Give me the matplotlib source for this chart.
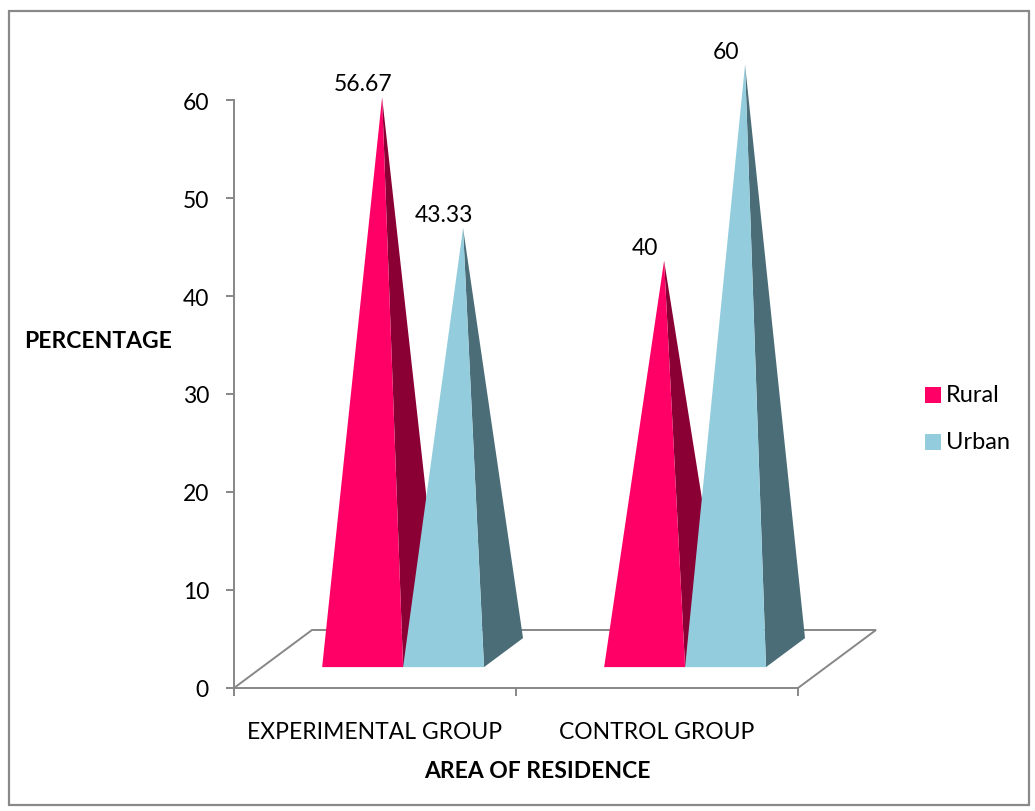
import numpy as np
import matplotlib.pyplot as plt
from matplotlib.patches import Polygon, Rectangle

plt.rcParams['font.family'] = ['Lato', 'DejaVu Sans']

groups = ['EXPERIMENTAL GROUP', 'CONTROL GROUP']
series = ['Rural', 'Urban']
rural = [56.67, 40]
urban = [43.33, 60]
yticks = [0, 10, 20, 30, 40, 50, 60]

face_colors = {'Rural': ('#ff0066', '#8a0035'), 'Urban': ('#93cddd', '#4b6d77')}
grid_gray = '#878787'
fs = 16.5

# 3-D look: depth vector of the floor in data units, and where the pyramids sit in it
depth_dx, depth_dy = 0.2766, 5.92
base_front, base_back, apex_depth = 0.36, 0.86, 0.61
pair_width = 0.574

fig = plt.figure(figsize=(10.35, 8.12), dpi=100)
ax = fig.add_axes([234 / 1035, 123 / 812, 2.3 * 282 / 1035, 66 * 9.8 / 812])
ax.set_xlim(0, 2.3)
ax.set_ylim(0, 66)

# floor of the 3-D box
ax.plot([0, depth_dx, 2 + depth_dx, 2], [0, depth_dy, depth_dy, 0],
        color=grid_gray, lw=1.4, solid_joinstyle='miter', clip_on=False)

bw = pair_width / 2
for gi in range(len(groups)):
    for si, (name, vals) in enumerate([('Rural', rural), ('Urban', urban)]):
        v = vals[gi]
        xl = gi + 0.5 - pair_width / 2 + si * bw
        xr = xl + bw
        fl = (xl + base_front * depth_dx, base_front * depth_dy)
        fr = (xr + base_front * depth_dx, base_front * depth_dy)
        br = (xr + base_back * depth_dx, base_back * depth_dy)
        apex = ((xl + xr) / 2 + apex_depth * depth_dx, v + apex_depth * depth_dy)
        front, side = face_colors[name]
        ax.add_patch(Polygon([fr, br, apex], closed=True, facecolor=side,
                             edgecolor='none', zorder=3 + si * 2))
        ax.add_patch(Polygon([fl, fr, apex], closed=True, facecolor=front,
                             edgecolor='none', zorder=4 + si * 2))
        ax.annotate(f'{v:g}', xy=((fl[0] + fr[0]) / 2, apex[1]), xytext=(0, 2),
                    textcoords='offset points', ha='center', va='bottom',
                    fontsize=fs, zorder=10)

for s in ['top', 'right']:
    ax.spines[s].set_visible(False)
for s in ['left', 'bottom']:
    ax.spines[s].set_color(grid_gray)
    ax.spines[s].set_linewidth(1.4)
ax.spines['left'].set_bounds(0, 60)
ax.spines['bottom'].set_bounds(0, 2)

ax.set_yticks(yticks)
ax.set_yticklabels([str(t) for t in yticks])
ax.set_xticks([0, 1, 2])
ax.set_xticklabels(['', '', ''])
ax.set_xticks([0.5, 1.5], groups, minor=True)
ax.tick_params(axis='y', direction='out', length=6, width=1.4, color=grid_gray,
               pad=12, labelsize=fs)
ax.tick_params(axis='x', which='major', direction='out', length=6, width=1.4,
               color=grid_gray)
ax.tick_params(axis='x', which='minor', length=0, pad=24, labelsize=fs)

fig.text(24 / 1035, 1 - 341 / 812, 'PERCENTAGE', fontsize=fs, fontweight='bold',
         ha='left', va='center')
fig.text(537 / 1035, 1 - 772 / 812, 'AREA OF RESIDENCE', fontsize=fs,
         fontweight='bold', ha='center', va='center')

# legend
for i, name in enumerate(series):
    y = 1 - (396 + i * 47) / 812
    fig.patches.append(Rectangle((925 / 1035, y - 8 / 812), 16 / 1035, 16 / 812,
                                 transform=fig.transFigure, facecolor=face_colors[name][0],
                                 edgecolor='none'))
    fig.text(946 / 1035, y, name, fontsize=17, ha='left', va='center')

# chart border
fig.patches.append(Rectangle((9 / 1035, 6 / 812), 1020 / 1035, 794 / 812,
                             transform=fig.transFigure, fill=False,
                             edgecolor='#898989', lw=1.6))

fig.savefig('out.png', dpi=100)
